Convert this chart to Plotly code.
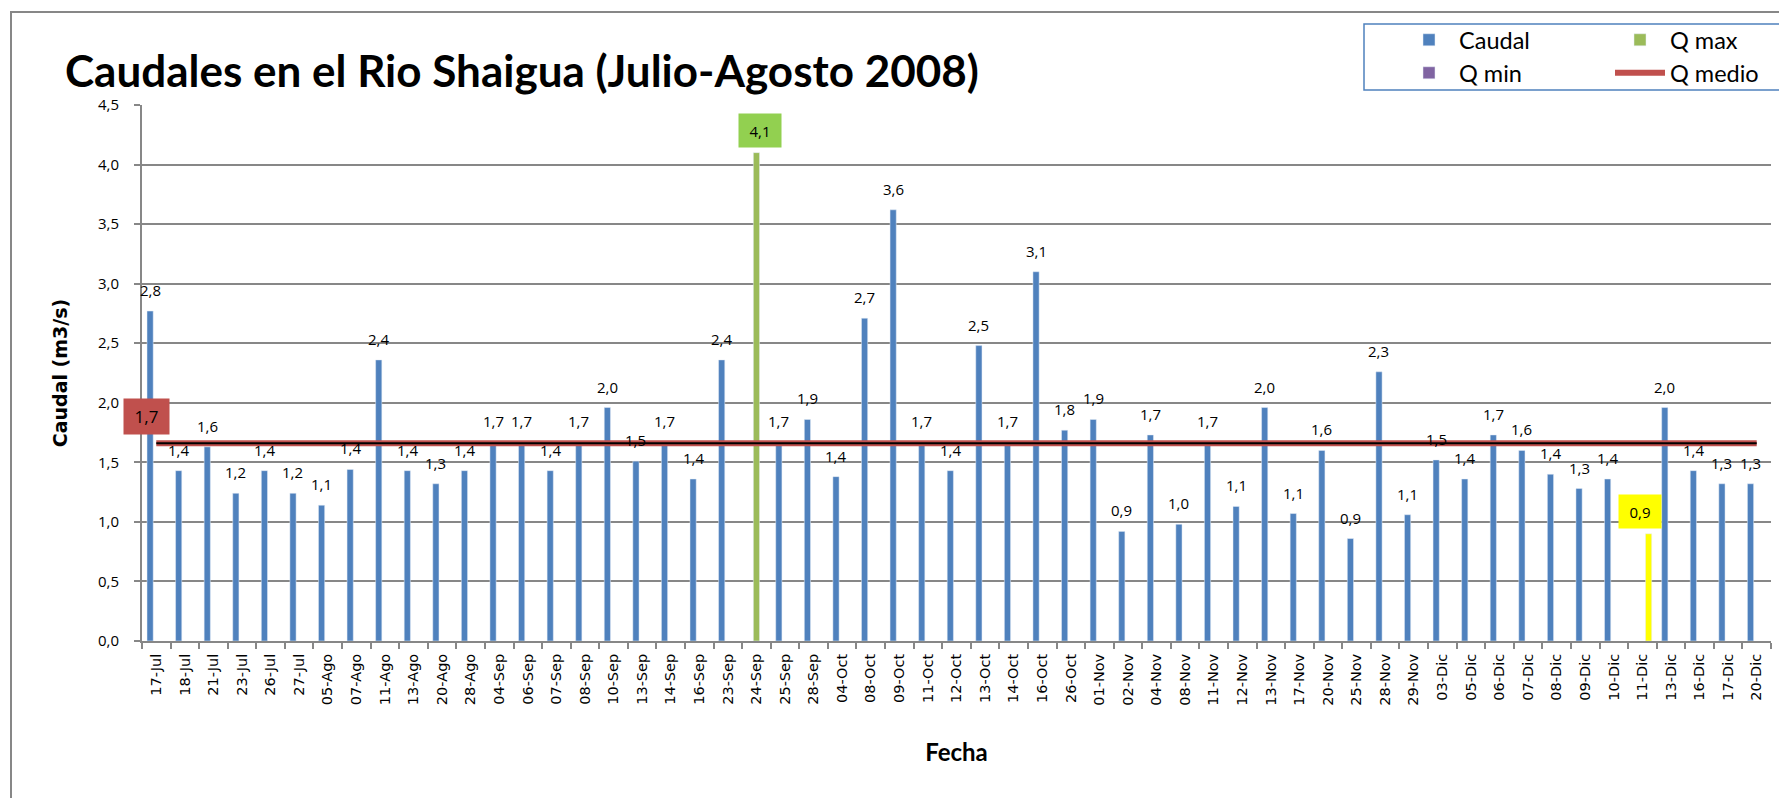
import plotly.graph_objects as go

categories = ["17-Jul", "18-Jul", "21-Jul", "23-Jul", "26-Jul", "27-Jul",
              "05-Ago", "07-Ago", "11-Ago", "13-Ago", "20-Ago", "28-Ago",
              "04-Sep", "06-Sep", "07-Sep", "08-Sep", "10-Sep", "13-Sep", "14-Sep", "16-Sep",
              "23-Sep", "24-Sep", "25-Sep", "28-Sep",
              "04-Oct", "08-Oct", "09-Oct", "11-Oct", "12-Oct", "13-Oct", "14-Oct", "16-Oct", "26-Oct",
              "01-Nov", "02-Nov", "04-Nov", "08-Nov", "11-Nov", "12-Nov", "13-Nov", "17-Nov",
              "20-Nov", "25-Nov", "28-Nov", "29-Nov",
              "03-Dic", "05-Dic", "06-Dic", "07-Dic", "08-Dic", "09-Dic", "10-Dic", "11-Dic",
              "13-Dic", "16-Dic", "17-Dic", "20-Dic"]

caudal = [2.77, 1.43, 1.63, 1.24, 1.43, 1.24,
          1.14, 1.44, 2.36, 1.43, 1.32, 1.43,
          1.67, 1.67, 1.43, 1.67, 1.96, 1.51, 1.67, 1.36,
          2.36, None, 1.67, 1.86,
          1.38, 2.71, 3.62, 1.67, 1.43, 2.48, 1.67, 3.10, 1.77,
          1.86, 0.92, 1.73, 0.98, 1.67, 1.13, 1.96, 1.07,
          1.60, 0.86, 2.26, 1.06,
          1.52, 1.36, 1.73, 1.60, 1.40, 1.28, 1.36, None,
          1.96, 1.43, 1.32, 1.32]

q_max_date = "24-Sep"
q_max_value = 4.1
q_min_date = "11-Dic"
q_min_value = 0.9
q_medio_value = 1.66

BLUE = "#4F81BD"
GREEN = "#9BBB59"
PURPLE = "#8064A2"
RED = "#C0504D"
GRID = "#878787"


def fmt(v):
    return f"{v:.1f}".replace(".", ",")


q_max_series = [q_max_value if c == q_max_date else None for c in categories]
q_min_series = [q_min_value if c == q_min_date else None for c in categories]
q_min_colors = ["#FFFF00" if c == q_min_date else PURPLE for c in categories]
q_medio_series = [q_medio_value for _ in categories]

fig = go.Figure()
fig.add_trace(go.Bar(x=categories, y=caudal, name="Caudal", marker_color=BLUE, legend="legend"))
fig.add_trace(go.Bar(x=categories, y=q_max_series, name="Q max", marker_color=GREEN, legend="legend"))
fig.add_trace(go.Bar(x=categories, y=q_min_series, name="Q min", marker=dict(color=q_min_colors), legend="legend2"))
fig.add_trace(go.Scatter(x=categories, y=q_medio_series, name="Q medio", mode="lines",
                         line=dict(color=RED, width=6), legend="legend2"))
fig.add_trace(go.Scatter(x=categories, y=q_medio_series, mode="lines", showlegend=False,
                         line=dict(color="black", width=2), hoverinfo="skip"))

# page body has an 8px margin, so the figure is 1787-8 x 798-8 and drawn in its own pixel frame
W, H = 1779, 790
L, R, T, B = 134, 16, 97, 157
PW, PH = W - L - R, H - T - B
cat_w = PW / len(categories)
bargap = 0.35
bar_w = cat_w * (1 - bargap) / 3


def px_x(p):
    return (p - L) / PW


def px_y(p):
    return (H - B - p) / PH


annotations = []
for c, v in zip(categories, caudal):
    if v is None:
        continue
    annotations.append(dict(x=c, y=v, xref="x", yref="y", text=fmt(v), showarrow=False,
                            xshift=-bar_w, yshift=21, yanchor="middle",
                            font=dict(family="Open Sans", size=15, color="black")))

annotations.append(dict(x=categories[0], y=q_medio_value, xref="x", yref="y", text=fmt(q_medio_value),
                        showarrow=False, xshift=-10, yshift=27, yanchor="middle", bgcolor=RED,
                        width=43, height=33, font=dict(family="Open Sans", size=17, color="black")))
annotations.append(dict(x=q_max_date, y=q_max_value, xref="x", yref="y", text=fmt(q_max_value),
                        showarrow=False, xshift=3.5, yshift=22.5, yanchor="middle", bgcolor="#92D050",
                        width=40, height=31, font=dict(family="Open Sans", size=15, color="black")))
annotations.append(dict(x=q_min_date, y=q_min_value, xref="x", yref="y", text=fmt(q_min_value),
                        showarrow=False, xshift=-2.4, yshift=22.5, yanchor="middle", bgcolor="#FFFF00",
                        width=40, height=31, font=dict(family="Open Sans", size=15, color="black")))

shapes = [
    dict(type="rect", xref="paper", yref="paper", x0=px_x(3), x1=px_x(1800), y0=px_y(830), y1=px_y(4),
         line=dict(color=GRID, width=2), fillcolor="rgba(0,0,0,0)", layer="below"),
    dict(type="rect", xref="paper", yref="paper", x0=px_x(1356), x1=px_x(1795), y0=px_y(82), y1=px_y(16),
         line=dict(color=BLUE, width=1.5), fillcolor="rgba(0,0,0,0)"),
]

legend_common = dict(orientation="h", xanchor="left", yanchor="middle",
                     font=dict(family="Lato", size=23.5, color="black"),
                     itemwidth=50,
                     entrywidth=146, entrywidthmode="pixels", bgcolor="rgba(0,0,0,0)",
                     borderwidth=0, itemclick=False, itemdoubleclick=False)

fig.update_layout(
    width=W, height=H,
    margin=dict(l=L, r=R, t=T, b=B, autoexpand=False),
    paper_bgcolor="white", plot_bgcolor="white",
    barmode="group", bargap=bargap, bargroupgap=0,
    separators=", ",
    title=dict(text="Caudales en el Rio Shaigua (Julio-Agosto 2008)",
               font=dict(family="Lato", size=44, color="black", weight="bold"),
               x=57 / W, xanchor="left", xref="container",
               y=1 - 64 / H, yanchor="middle", yref="container"),
    xaxis=dict(type="category", categoryorder="array", categoryarray=categories,
               range=[-0.5, len(categories) - 0.5],
               tickangle=-90, tickfont=dict(family="DejaVu Sans", size=14.5, color="black"),
               ticks="outside", ticklen=6, tickwidth=2, tickcolor=GRID, tickson="boundaries",
               ticklabelstandoff=5,
               showline=True, linecolor=GRID, linewidth=2, showgrid=False, automargin=False,
               title=dict(text="Fecha", font=dict(family="Lato", size=24, color="black", weight="bold"),
                          standoff=39)),
    yaxis=dict(range=[0, 4.5], tick0=0, dtick=0.5, tickformat=".1f",
               showgrid=True, gridcolor=GRID, gridwidth=2, zeroline=False,
               showline=True, linecolor=GRID, linewidth=2,
               ticks="outside", ticklen=6, tickwidth=2, tickcolor=GRID,
               ticklabelstandoff=12,
               tickfont=dict(family="Open Sans", size=15, color="black"), automargin=False,
               title=dict(text="Caudal (m3/s)", font=dict(family="DejaVu Sans", size=19, color="black",
                                                          weight="bold"), standoff=25)),
    legend=dict(x=px_x(1391), y=px_y(32), **legend_common),
    legend2=dict(x=px_x(1391), y=px_y(65), **legend_common),
    annotations=annotations,
    shapes=shapes,
)

fig.write_html("out.html")
